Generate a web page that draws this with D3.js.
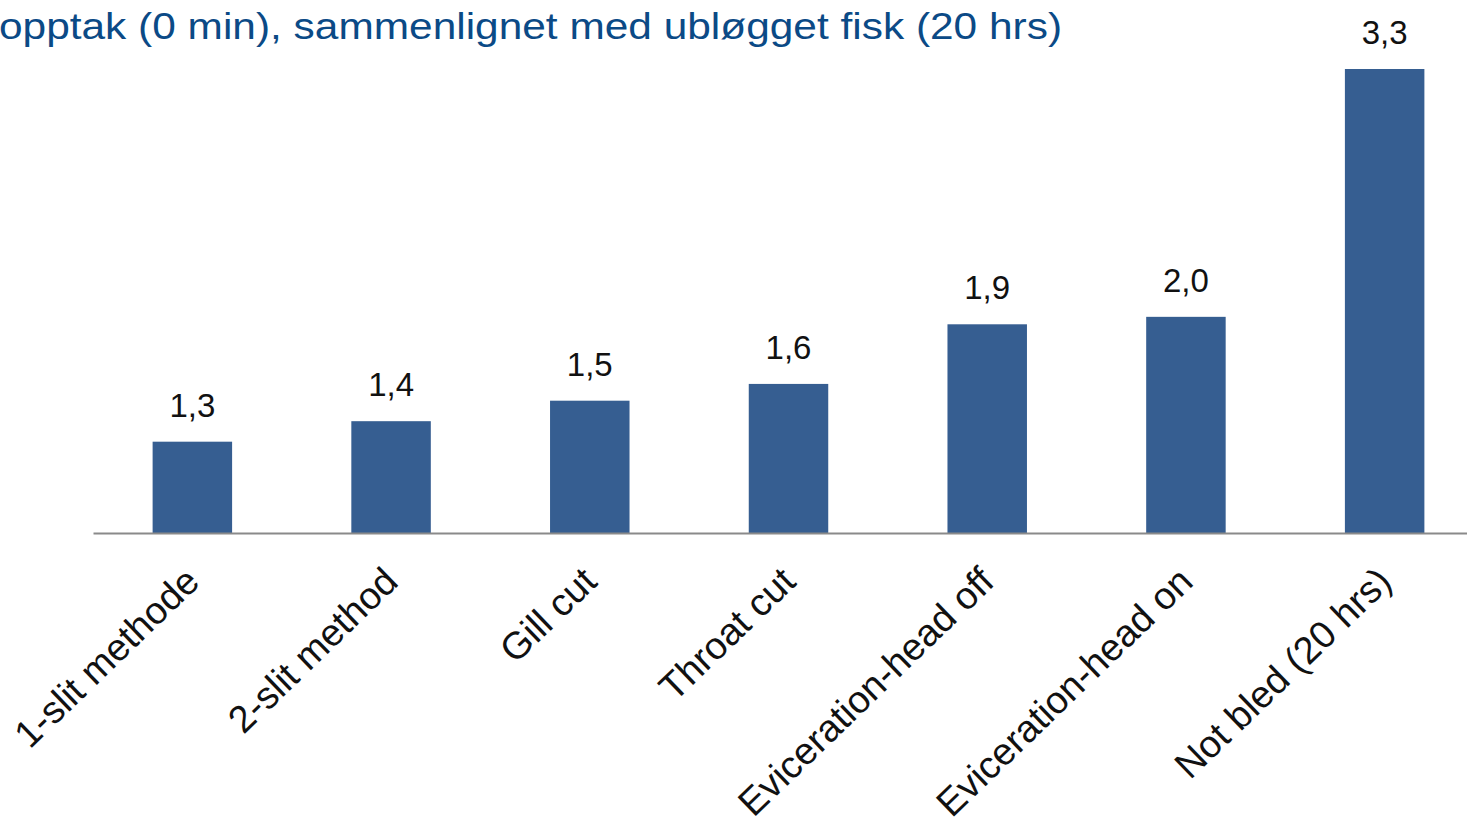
<!doctype html>
<meta charset="utf-8">
<title>Blødning</title>
<script src="https://cdn.jsdelivr.net/npm/d3@7"></script>
<style>
  body { margin: 0; background: #fff; }
  svg { display: block; font-family: Arial, "Liberation Sans", sans-serif; }
</style>
<svg id="chart" width="1467" height="825"></svg>
<script>
  // data
  const categories = [
    "1-slit methode", "2-slit method", "Gill cut", "Throat cut",
    "Eviceration-head off", "Eviceration-head on", "Not bled (20 hrs)"
  ]
  const values = [1.30, 1.41, 1.52, 1.61, 1.93, 1.97, 3.30]
  const titleText = "opptak (0 min), sammenlignet med ubløgget fisk (20 hrs)"

  const svg = d3.select('#chart')
  const baseY = 533

  const x = d3.scaleBand()
    .domain(categories)
    .range([93, 1484])
    .paddingInner(0.6)
    .paddingOuter(0.3)

  // value axis does not start at zero in the original
  const y = d3.scaleLinear()
    .domain([0.81, 3.3])
    .range([baseY, 69])

  const fmt = (v) => d3.format('.1f')(v).replace('.', ',')

  // title (cut off on the left in the original)
  svg.append('text')
    .attr('x', -1)
    .attr('y', 39)
    .attr('fill', '#0b4a86')
    .attr('font-size', 36)
    .attr('textLength', 1063)
    .attr('lengthAdjust', 'spacingAndGlyphs')
    .text(titleText)

  // bars
  svg.append('g')
    .selectAll('rect')
    .data(values)
    .join('rect')
    .attr('x', (d, i) => x(categories[i]))
    .attr('y', (d) => y(d))
    .attr('width', x.bandwidth())
    .attr('height', (d) => baseY - y(d))
    .attr('fill', '#365e91')

  // value labels
  svg.append('g')
    .selectAll('text')
    .data(values)
    .join('text')
    .attr('x', (d, i) => x(categories[i]) + x.bandwidth() / 2)
    .attr('y', (d) => y(d) - 25)
    .attr('text-anchor', 'middle')
    .attr('font-size', 33)
    .attr('fill', '#111')
    .text(fmt)

  // x axis
  const axis = svg.append('g')
    .attr('transform', `translate(0,${baseY})`)
    .call(d3.axisBottom(x).tickSize(0).tickPadding(0))
  axis.select('.domain').attr('stroke', '#8a8a8a').attr('stroke-width', 2)
  axis.selectAll('.tick text')
    .attr('font-size', 38)
    .attr('fill', '#111')
    .attr('text-anchor', 'end')
    .attr('dy', 0)
    .attr('y', 0)
    .attr('transform', `translate(9,51) rotate(-44)`)
</script>
